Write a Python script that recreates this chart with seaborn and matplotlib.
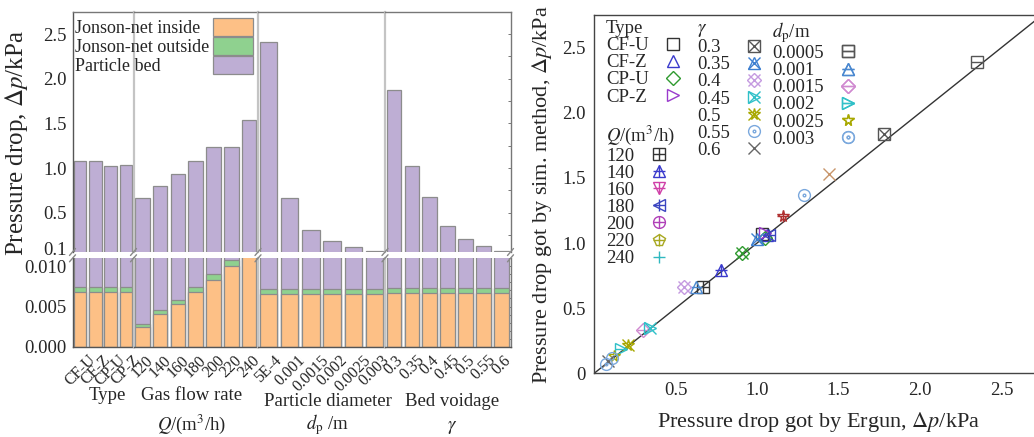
import numpy as np
import matplotlib
matplotlib.use("Agg")
import matplotlib.pyplot as plt
import seaborn as sns
from matplotlib.lines import Line2D
from matplotlib.patches import Patch
from matplotlib.ticker import MultipleLocator

# ---------------- data (left: stacked bars) ----------------
type_labels = ["CF-U", "CF-Z", "CP-U", "CP-Z"]
type_total = [1.08, 1.08, 1.02, 1.03]
type_inside = [0.0068, 0.0068, 0.0068, 0.0068]
type_outside = [0.0006, 0.0006, 0.0006, 0.0006]

q_labels = ["120", "140", "160", "180", "200", "220", "240"]
q_total = [0.67, 0.80, 0.93, 1.08, 1.23, 1.23, 1.54]
q_inside = [0.0025, 0.0041, 0.0053, 0.0068, 0.0083, 0.0101, 0.0125]
q_outside = [0.0003, 0.00045, 0.00055, 0.0006, 0.0008, 0.0007, 0.0009]

dp_labels = ["5E-4", "0.001", "0.0015", "0.002", "0.0025", "0.003"]
dp_total = [2.41, 0.67, 0.31, 0.18, 0.115, 0.068]
dp_inside = [0.0066, 0.0066, 0.0066, 0.0066, 0.0066, 0.0066]
dp_outside = [0.0006, 0.0006, 0.0006, 0.0006, 0.0006, 0.0006]

g_labels = ["0.3", "0.35", "0.4", "0.45", "0.5", "0.55", "0.6"]
g_total = [1.87, 1.02, 0.68, 0.35, 0.205, 0.125, 0.068]
g_inside = [0.0067, 0.0067, 0.0067, 0.0067, 0.0067, 0.0067, 0.0067]
g_outside = [0.0006, 0.0006, 0.0006, 0.0006, 0.0006, 0.0006, 0.0006]

group_titles = ["Type", "Gas flow rate", "Particle diameter", "Bed voidage"]
group_units = ["", r"$Q$/(m$^3$/h)", r"$d_\mathrm{p}$ /m", r"$\gamma$"]
series_names = ["Jonson-net inside", "Jonson-net outside", "Particle bed"]

# ---------------- data (right: parity plot) ----------------
pt_case = ["0.0005", "0.3", "240", "200", "220", "CF-U", "CF-Z", "CP-U", "CP-Z",
           "180", "0.35", "160", "140", "120", "0.001", "0.4", "0.0015", "0.45",
           "0.5", "0.002", "0.0025", "0.55", "0.6", "0.003"]
pt_ergun = [2.35, 1.78, 1.44, 1.29, 1.16, 1.03, 1.06, 1.05, 1.05,
            1.07, 1.00, 0.91, 0.78, 0.665, 0.625, 0.55, 0.30, 0.345,
            0.21, 0.165, 0.12, 0.11, 0.085, 0.07]
pt_sim = [2.39, 1.84, 1.53, 1.365, 1.21, 1.07, 1.06, 1.04, 1.08,
          1.06, 1.03, 0.925, 0.79, 0.66, 0.665, 0.665, 0.33, 0.35,
          0.215, 0.19, 0.13, 0.12, 0.095, 0.075]
ref_line = [0.0, 2.75]

legend_type = ["CF-U", "CF-Z", "CP-U", "CP-Z"]
legend_q = ["120", "140", "160", "180", "200", "220", "240"]
legend_g = ["0.3", "0.35", "0.4", "0.45", "0.5", "0.55", "0.6"]
legend_dp = ["0.0005", "0.001", "0.0015", "0.002", "0.0025", "0.003"]

# ---------------- styles ----------------
ORANGE, GREEN, PURPLE = "#fdc086", "#8fd18f", "#beaed4"
EDGE = "#8c8c8c"

case_style = {
    "CF-U": (["s"], "#333333"),
    "CF-Z": (["^"], "#3a3acc"),
    "CP-U": (["D"], "#2f9a2f"),
    "CP-Z": ([">"], "#9a3acc"),
    "120": (["s", "+"], "#333333"),
    "140": (["^", "+"], "#3a3acc"),
    "160": (["v", "+"], "#d040a8"),
    "180": (["<", "+"], "#3a44c0"),
    "200": (["o", "+"], "#b040b8"),
    "220": (["p", "+"], "#a8a820"),
    "240": (["+"], "#30b8c0"),
    "0.3": (["s", "x"], "#555555"),
    "0.35": (["^", "x"], "#3d7fd0"),
    "0.4": (["D", "x"], "#c49ae0"),
    "0.45": ([">", "x"], "#30c0c8"),
    "0.5": (["*", "x"], "#a8a800"),
    "0.55": (["o", "."], "#7aa8dd"),
    "0.6": (["x"], "#666666"),
    "0.0005": (["s", "_"], "#555555"),
    "0.001": (["^", "_"], "#4a88d0"),
    "0.0015": (["D", "_"], "#d08ad0"),
    "0.002": ([">", "_"], "#30c0c8"),
    "0.0025": (["*"], "#a8a800"),
    "0.003": (["o", "."], "#7aa8dd"),
}
# markers as they appear in the scatter where they differ from the legend
scatter_override = {
    "240": (["x"], "#c8956a"),
    "200": (["o", "."], "#7aa8dd"),
    "220": (["*", "+"], "#b03030"),
    "160": (["D", "x"], "#2f9a2f"),
}

sns.set_style("white")
plt.rcParams["font.family"] = ["Liberation Serif", "DejaVu Serif"]
plt.rcParams["mathtext.fontset"] = "stix"
plt.rcParams["axes.linewidth"] = 1.0

W, H = 1034, 437
fig = plt.figure(figsize=(W / 100, H / 100), dpi=100)


def fbox(x0, y0, x1, y1):
    return [x0 / W, 1 - y1 / H, (x1 - x0) / W, (y1 - y0) / H]


# ---------------- left chart ----------------
groups = [
    (type_labels, type_total, type_inside, type_outside),
    (q_labels, q_total, q_inside, q_outside),
    (dp_labels, dp_total, dp_inside, dp_outside),
    (g_labels, g_total, g_inside, g_outside),
]
edges = [72.5, 133.5, 258, 385, 510.5]
UP_T, UP_B, LO_T, LO_B = 11.7, 252, 258.3, 346.7
SEP = "#c4c4c4"
DARK = "#555555"
bar_kw = dict(width=0.82, edgecolor=EDGE, linewidth=0.9, saturation=1)

for i, (labels, total, inside, outside) in enumerate(groups):
    axu = fig.add_axes(fbox(edges[i], UP_T, edges[i + 1], UP_B))
    axl = fig.add_axes(fbox(edges[i], LO_T, edges[i + 1], LO_B))
    sns.barplot(x=labels, y=total, color=PURPLE, ax=axu, **bar_kw)
    sns.barplot(x=labels, y=total, color=PURPLE, ax=axl, **bar_kw)
    sns.barplot(x=labels, y=list(np.add(inside, outside)), color=GREEN, ax=axl, **bar_kw)
    sns.barplot(x=labels, y=inside, color=ORANGE, ax=axl, **bar_kw)
    axu.set_ylim(0.06, 2.75)
    axl.set_ylim(0, 0.011)
    n = len(labels)
    for ax in (axu, axl):
        ax.set_xlim(-0.5, n - 0.5)
        ax.set_xlabel("")
        ax.set_ylabel("")
        ax.spines["right"].set_visible(i == 3)
        ax.spines["right"].set_color("#777777")
        ax.spines["left"].set_color(DARK if i == 0 else SEP)
        ax.spines["left"].set_linewidth(1.0 if i == 0 else 1.6)
    axu.spines["bottom"].set_visible(False)
    axu.spines["top"].set_color("#777777")
    axl.spines["top"].set_visible(False)
    axl.spines["bottom"].set_color(DARK)
    axu.set_xticks([])
    axl.set_xticks(range(n))
    axl.set_xticklabels(labels, rotation=45, ha="center", fontsize=11.5)
    axl.tick_params(axis="x", direction="in", length=3, width=0.8, color=DARK, pad=4)
    if i == 0:
        axu.set_yticks([0.1, 0.5, 1.0, 1.5, 2.0, 2.5])
        axu.set_yticklabels(["0.1", "0.5", "1.0", "1.5", "2.0", "2.5"], fontsize=13.5)
        axl.set_yticks([0, 0.005, 0.010])
        axl.set_yticklabels(["0.000", "0.005", "0.010"], fontsize=13.5)
        for ax in (axu, axl):
            ax.tick_params(axis="y", length=3, width=0.8, color=DARK, pad=1)
    elif i == 3:
        axu.yaxis.tick_right()
        axl.yaxis.tick_right()
        axu.yaxis.set_major_locator(MultipleLocator(0.25))
        axl.yaxis.set_major_locator(MultipleLocator(0.001))
        for ax in (axu, axl):
            ax.tick_params(axis="y", direction="in", length=2.5, width=0.7,
                           color="#777777", labelright=False)
    else:
        axu.set_yticks([])
        axl.set_yticks([])

# break marks
for x in edges:
    for yb in (UP_B, LO_T):
        fig.add_artist(Line2D([(x - 3) / W, (x + 3) / W],
                              [1 - (yb + 3.5) / H, 1 - (yb - 3.5) / H],
                              color="#888888", lw=1.0))


def left_aligned_legend(container, handles, labels, anchor, hh, hl, htp,
                        title=None, is_axes=True, **kw):
    """Text column left-aligned, handles aligned in a column to the right."""
    common = dict(loc="upper left", frameon=False, labelspacing=0, borderpad=0,
                  borderaxespad=0, alignment="left", handleheight=hh,
                  bbox_to_anchor=anchor, title=title, **kw)
    blanks = [Patch(facecolor="none", edgecolor="none") for _ in labels]
    lt = container.legend(blanks, labels, markerfirst=True, handlelength=0,
                          handletextpad=0, **common)
    if is_axes:
        container.add_artist(lt)
    lh = container.legend(handles, labels, markerfirst=False, handlelength=hl,
                          handletextpad=htp, **common)
    # the copies of the texts only reserve room; the visible ones are in lt
    for t in lh.get_texts():
        t.set_visible(False)
    if title:
        lh.get_title().set_visible(False)
    if is_axes:
        container.add_artist(lh)


# left legend
leg_handles = [Patch(facecolor=c, edgecolor=EDGE, linewidth=0.9) for c in (ORANGE, GREEN, PURPLE)]
left_aligned_legend(fig, leg_handles, series_names, (75 / W, 1 - 18 / H), 1.16,
                    2.2, 0.2, is_axes=False, fontsize=13)

# group labels
title_x = [107, 192, 328, 452]
title_y = [396, 396, 402, 402]
unit_y = [424, 424, 425, 428]
for k in range(4):
    fig.text(title_x[k] / W, 1 - title_y[k] / H, group_titles[k], ha="center",
             va="center", fontsize=13.5)
    if group_units[k]:
        fig.text(title_x[k] / W, 1 - unit_y[k] / H, group_units[k], ha="center",
                 va="center", fontsize=13.5)

fig.text(17 / W, 1 - 143 / H, r"Pressure drop, $\Delta p$/kPa", rotation=90,
         ha="center", va="center", fontsize=18)

# ---------------- right chart ----------------
ax = fig.add_axes(fbox(594.2, 15, 594.2 + 448, 373.3))
ax.set_xlim(0, 2.75)
ax.set_ylim(0, 2.75)
ax.plot(ref_line, ref_line, color="#333333", lw=1.0, zorder=1)


def msize(m, ms=8.5):
    return ms * (0.8 if m == "D" else (0.45 if m == "." else 1.0))


for c, xe, ys in zip(pt_case, pt_ergun, pt_sim):
    mk, col = scatter_override.get(c, case_style[c])
    for m in mk:
        ax.plot([xe], [ys], linestyle="none", marker=m, markersize=msize(m),
                markerfacecolor="none", markeredgecolor=col, markeredgewidth=1.0)

ax.set_xticks([0.5, 1.0, 1.5, 2.0, 2.5])
ax.set_xticklabels(["0.5", "1.0", "1.5", "2.0", "2.5"], fontsize=13.5)
ax.set_yticks([0, 0.5, 1.0, 1.5, 2.0, 2.5])
ax.set_yticklabels(["0", "0.5", "1.0", "1.5", "2.0", "2.5"], fontsize=13.5)
ax.xaxis.set_minor_locator(MultipleLocator(0.25))
ax.yaxis.set_minor_locator(MultipleLocator(0.25))
ax.tick_params(which="both", direction="in", color="#333333", width=0.8)
ax.tick_params(which="major", length=4, pad=6)
ax.tick_params(which="minor", length=2.5)
for s in ax.spines.values():
    s.set_color("#444444")
ax.set_xlabel(r"Pressure drop got by Ergun, $\Delta p$/kPa", fontsize=16, labelpad=8)
ax.set_ylabel(r"Pressure drop got by sim. method, $\Delta p$/kPa", fontsize=16,
              labelpad=6)


def handle(case):
    mk, col = case_style[case]
    return tuple(Line2D([], [], linestyle="none", marker=m, markersize=msize(m),
                        markerfacecolor="none", markeredgecolor=col,
                        markeredgewidth=1.0) for m in mk)


def axpos(px, py):
    return ((px - 594.2) / 448, (373.3 - py) / 358.3)


legs = [
    (legend_type, "Type", axpos(606, 20)),
    (legend_q, r"$Q$/(m$^3$/h)", axpos(606, 124)),
    (legend_g, r"$\gamma$", axpos(697, 20)),
    (legend_dp, r"$d_\mathrm{p}$/m", axpos(772, 20)),
]
for labels, title, pos in legs:
    left_aligned_legend(ax, [handle(c) for c in labels], labels, pos, 0.7, 1.4, 0.6,
                        title=title, fontsize=13.5, title_fontsize=13.5)

fig.savefig("out.png", dpi=100, facecolor="white")
